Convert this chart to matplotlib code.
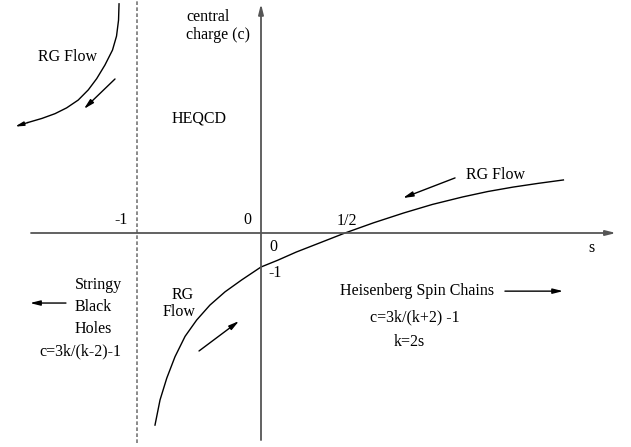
import numpy as np
import matplotlib
matplotlib.use("Agg")
import matplotlib.pyplot as plt

# Curve samples (s, c)
heis_s = [-0.631, -0.601, -0.561, -0.512, -0.452, -0.383, -0.304, -0.214, -0.115, 0.0,
          0.10, 0.21, 0.35, 0.50, 0.67, 0.85, 1.02, 1.20, 1.35, 1.50, 1.65, 1.80]
heis_c = [-5.65, -4.91, -4.27, -3.64, -3.04, -2.56, -2.12, -1.73, -1.38, -1.0,
          -0.80, -0.56, -0.29, 0.0, 0.30, 0.59, 0.84, 1.06, 1.22, 1.35, 1.46, 1.56]

bh_s = [-0.845, -0.848, -0.860, -0.884, -0.929, -0.978, -1.028, -1.088, -1.157,
        -1.226, -1.304, -1.387, -1.464]
bh_c = [6.74, 6.26, 5.79, 5.38, 4.94, 4.54, 4.21, 3.91, 3.68,
        3.51, 3.37, 3.25, 3.13]

# Pole (dashed line) and axis extents
pole_s = -0.738
pole_c = [-6.18, 6.85]
s_axis = [-1.369, 2.113]
c_axis = [-6.09, 6.74]

# Flow arrows: (s_start, c_start, s_end, c_end)
flow_arrows = [
    (-0.869, 4.53, -1.054, 3.65),
    (1.155, 1.62, 0.845, 1.03),
    (1.452, -1.71, 1.798, -1.71),
    (-1.161, -2.06, -1.375, -2.06),
    (-0.369, -3.47, -0.131, -2.59),
]

# Labels: (s, c, text, ha)
labels = [
    (-1.149, 5.18, "RG Flow", "center"),
    (-0.369, 3.38, "HEQCD", "center"),
    (-0.833, 0.38, "-1", "center"),
    (-0.083, 0.38, "0", "center"),
    (0.512, 0.35, "1/2", "center"),
    (0.071, -0.41, "0", "center"),
    (1.970, -0.44, "s", "center"),
    (0.083, -1.18, "-1", "center"),
    (1.393, 1.71, "RG Flow", "center"),
    (0.929, -1.71, "Heisenberg Spin Chains", "center"),
    (0.917, -2.47, "c=3k/(k+2) -1", "center"),
    (0.881, -3.21, "k=2s", "center"),
    (-1.107, -1.53, "Stringy", "left"),
    (-1.107, -2.18, "Black", "left"),
    (-1.107, -2.82, "Holes", "left"),
    (-1.077, -3.47, "c=3k/(k-2)-1", "center"),
    (-0.464, -1.82, "RG", "center"),
    (-0.488, -2.32, "Flow", "center"),
    (-0.446, 6.35, "central", "left"),
    (-0.446, 5.82, "charge (c)", "left"),
]

plt.rcParams['font.family'] = ['Liberation Serif', 'DejaVu Serif']
plt.rcParams['font.size'] = 11.5

fig = plt.figure(figsize=(6.31, 4.47), dpi=100)
ax = fig.add_axes([0, 0, 1, 1])

# pixel frame of the sketch: origin at (261, 233), 168 px per s, 34 px per c
ax.set_xlim(-261 / 168, 370 / 168)
ax.set_ylim(-214 / 34, 233 / 34)
ax.axis('off')

axis_col = '#555555'
head = '-|>,head_length=0.6,head_width=0.15'

# axes with arrows
ax.annotate('', xy=(s_axis[1], 0), xytext=(s_axis[0], 0),
            arrowprops=dict(arrowstyle=head, color=axis_col, lw=1.3, mutation_scale=10,
                            shrinkA=0, shrinkB=0))
ax.annotate('', xy=(0, c_axis[1]), xytext=(0, c_axis[0]),
            arrowprops=dict(arrowstyle=head, color=axis_col, lw=1.3, mutation_scale=10,
                            shrinkA=0, shrinkB=0))

# pole at k = 2
ax.plot([pole_s, pole_s], pole_c, color='#777777', lw=1.2, linestyle=(0, (2.2, 1.4)))

# curves
ax.plot(heis_s, heis_c, color='black', lw=1.0)
ax.plot(bh_s[:-1], bh_c[:-1], color='black', lw=1.0)
ax.annotate('', xy=(bh_s[-1], bh_c[-1]), xytext=(bh_s[-2], bh_c[-2]),
            arrowprops=dict(arrowstyle='-|>,head_length=0.5,head_width=0.12', color='black',
                            lw=1.0, mutation_scale=10, shrinkA=0, shrinkB=0))

# flow arrows
for s0, c0, s1, c1 in flow_arrows:
    ax.annotate('', xy=(s1, c1), xytext=(s0, c0),
                arrowprops=dict(arrowstyle=head, color='black', lw=1.0, mutation_scale=10,
                                shrinkA=0, shrinkB=0))

for s, c, txt, ha in labels:
    ax.text(s, c, txt, ha=ha, va='center')

fig.savefig('out.png', dpi=100)
